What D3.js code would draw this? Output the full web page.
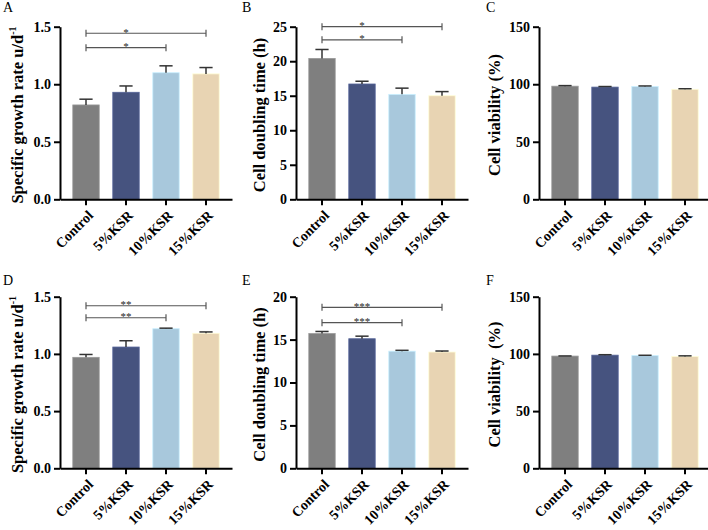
<!DOCTYPE html>
<html>
<head>
<meta charset="utf-8">
<script src="https://cdn.jsdelivr.net/npm/d3@7"></script>
<style>
  body { margin: 0; background: #fff; }
  svg { display: block; font-family: "Liberation Serif", "Times New Roman", serif; }
</style>
</head>
<body>
<div id="chart"></div>
<script>
// groups on the x axis
var categories = ["Control", "5%KSR", "10%KSR", "15%KSR"];
var barColors = ["#7f7f7f", "#46537f", "#a8c8dc", "#e8d4b3"];

// top row
var growthRateA = [0.82, 0.93, 1.10, 1.09];
var growthRateErrA = [0.05, 0.055, 0.06, 0.055];
var doublingTimeB = [20.4, 16.7, 15.2, 15.0];
var doublingTimeErrB = [1.3, 0.4, 0.9, 0.6];
var viabilityC = [98.3, 97.5, 98.0, 95.6];
var viabilityErrC = [0.5, 0.5, 0.5, 0.5];

// bottom row
var growthRateD = [0.97, 1.06, 1.22, 1.18];
var growthRateErrD = [0.025, 0.055, 0.005, 0.012];
var doublingTimeE = [15.7, 15.1, 13.65, 13.55];
var doublingTimeErrE = [0.25, 0.3, 0.1, 0.12];
var viabilityF = [98.1, 98.9, 98.5, 97.7];
var viabilityErrF = [0.1, 0.4, 0.3, 0.6];

// tick values
var growthTicks = [0, 0.5, 1.0, 1.5];
var doublingTicksB = [0, 5, 10, 15, 20, 25];
var doublingTicksE = [0, 5, 10, 15, 20];
var viabilityTicks = [0, 50, 100, 150];

// significance brackets: [from, to, level, label]
var sigA = [[0, 3, 1.443, "*"], [0, 2, 1.318, "*"]];
var sigB = [[0, 3, 25.0, "*"], [0, 2, 23.1, "*"]];
var sigD = [[0, 3, 1.421, "**"], [0, 2, 1.316, "**"]];
var sigE = [[0, 3, 18.76, "***"], [0, 2, 16.97, "***"]];

var width = 708, height = 530;

var svg = d3.select("#chart").append("svg")
    .attr("width", width)
    .attr("height", height);

var colX = [60, 296, 539];
var rowY = [[26.7, 199.3], [296.7, 468.3]];

var panels = [
    { letter: "A", col: 0, row: 0, values: growthRateA, errs: growthRateErrA, ticks: growthTicks, fmt: ".1f", title: "growth", sig: sigA, titleOff: 37 },
    { letter: "B", col: 1, row: 0, values: doublingTimeB, errs: doublingTimeErrB, ticks: doublingTicksB, fmt: "d", title: "Cell doubling time (h)", sig: sigB, titleOff: 31 },
    { letter: "C", col: 2, row: 0, values: viabilityC, errs: viabilityErrC, ticks: viabilityTicks, fmt: "d", title: "Cell viability (%)", sig: [], titleOff: 39 },
    { letter: "D", col: 0, row: 1, values: growthRateD, errs: growthRateErrD, ticks: growthTicks, fmt: ".1f", title: "growth", sig: sigD, titleOff: 37 },
    { letter: "E", col: 1, row: 1, values: doublingTimeE, errs: doublingTimeErrE, ticks: doublingTicksE, fmt: "d", title: "Cell doubling time (h)", sig: sigE, titleOff: 31 },
    { letter: "F", col: 2, row: 1, values: viabilityF, errs: viabilityErrF, ticks: viabilityTicks, fmt: "d", title: "Cell viability\u2002(%)", sig: [], titleOff: 39 }
];

panels.forEach(drawPanel);

function drawPanel(p) {
    var x0 = colX[p.col];
    var top = rowY[p.row][0], bottom = rowY[p.row][1];
    var g = svg.append("g");

    var x = d3.scaleBand()
        .domain(categories)
        .range([x0, x0 + 172])
        .paddingInner(0.34)
        .paddingOuter(0.32);

    var y = d3.scaleLinear()
        .domain([0, d3.max(p.ticks)])
        .range([bottom, top]);

    // bars
    g.selectAll("rect.bar")
        .data(p.values)
        .join("rect")
        .attr("class", "bar")
        .attr("x", (d, i) => x(categories[i]))
        .attr("y", d => y(d))
        .attr("width", x.bandwidth())
        .attr("height", d => bottom - y(d))
        .attr("fill", (d, i) => barColors[i])
        .attr("stroke", (d, i) => d3.color(barColors[i]).brighter(0.5))
        .attr("stroke-width", 0.8);

    // error bars (upper half only)
    var cap = x.bandwidth() * 0.25;
    var eb = g.selectAll("g.err")
        .data(p.values)
        .join("g")
        .attr("class", "err")
        .attr("stroke", "#333")
        .attr("stroke-width", 1.5);
    eb.append("line")
        .attr("x1", (d, i) => x(categories[i]) + x.bandwidth() / 2)
        .attr("x2", (d, i) => x(categories[i]) + x.bandwidth() / 2)
        .attr("y1", d => y(d))
        .attr("y2", (d, i) => y(d + p.errs[i]));
    eb.append("line")
        .attr("x1", (d, i) => x(categories[i]) + x.bandwidth() / 2 - cap)
        .attr("x2", (d, i) => x(categories[i]) + x.bandwidth() / 2 + cap)
        .attr("y1", (d, i) => y(d + p.errs[i]))
        .attr("y2", (d, i) => y(d + p.errs[i]));

    // y axis
    var yAxis = g.append("g")
        .attr("transform", "translate(" + x0 + ",0)")
        .call(d3.axisLeft(y).tickValues(p.ticks).tickFormat(d3.format(p.fmt)).tickSize(6).tickSizeOuter(0).tickPadding(3));
    yAxis.selectAll("path, line").attr("stroke", "#000").attr("stroke-width", 2);
    yAxis.selectAll("text")
        .attr("font-family", "Liberation Serif, serif")
        .attr("font-size", 14)
        .attr("font-weight", "bold")
        .attr("fill", "#000");

    // x axis
    var xAxis = g.append("g")
        .attr("transform", "translate(0," + bottom + ")")
        .call(d3.axisBottom(x).tickSize(6).tickSizeOuter(0));
    xAxis.select("path").attr("stroke", "#000").attr("stroke-width", 2);
    xAxis.selectAll("line").attr("stroke", "#000").attr("stroke-width", 2);
    xAxis.selectAll("text")
        .attr("font-family", "Liberation Serif, serif")
        .attr("font-size", 14)
        .attr("font-weight", "bold")
        .attr("fill", "#000")
        .attr("text-anchor", "end")
        .attr("dy", 0)
        .attr("y", 0)
        .attr("transform", "translate(8,17) rotate(-45)");

    // y title
    var tx = x0 - p.titleOff, ty = (top + bottom) / 2 + 2;
    var title = g.append("text")
        .attr("transform", "translate(" + tx + "," + ty + ") rotate(-90)")
        .attr("text-anchor", "middle")
        .attr("font-size", 16.5)
        .attr("font-weight", "bold");
    if (p.title === "growth") {
        title.append("tspan").text("Specific growth rate u/d");
        title.append("tspan").attr("font-size", 10).attr("dy", -7).text("-1");
    } else {
        title.text(p.title);
    }

    // significance brackets
    p.sig.forEach(function(s) {
        var xa = x(categories[s[0]]) + x.bandwidth() / 2;
        var xb = x(categories[s[1]]) + x.bandwidth() / 2;
        var yl = y(s[2]);
        var br = g.append("g").attr("stroke", "#555").attr("stroke-width", 1.2);
        br.append("line").attr("x1", xa).attr("x2", xb).attr("y1", yl).attr("y2", yl);
        br.append("line").attr("x1", xa).attr("x2", xa).attr("y1", yl - 3.5).attr("y2", yl + 3.5);
        br.append("line").attr("x1", xb).attr("x2", xb).attr("y1", yl - 3.5).attr("y2", yl + 3.5);
        g.append("text")
            .attr("x", x(categories[1]) + x.bandwidth() / 2)
            .attr("y", yl + 2.5)
            .attr("text-anchor", "middle")
            .attr("font-size", 11)
            .attr("fill", "#222")
            .style("opacity", 0.99)
            .text(s[3]);
    });

    // panel letter
    svg.append("text")
        .attr("x", [3, 242, 486][p.col])
        .attr("y", [12, 285][p.row])
        .attr("font-size", 14)
        .text(p.letter);
}
</script>
</body>
</html>
